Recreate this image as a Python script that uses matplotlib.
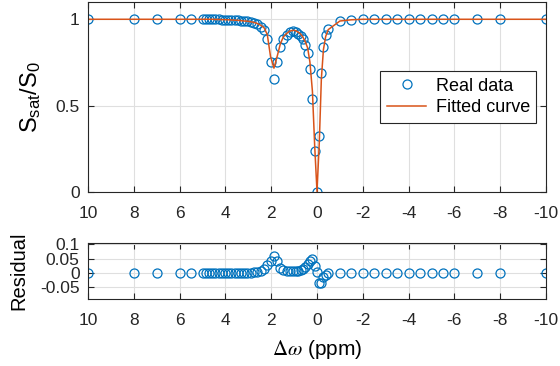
import matplotlib
matplotlib.use("Agg")
import matplotlib.pyplot as plt

plt.rcParams['font.family'] = ['Liberation Sans', 'DejaVu Sans']
plt.rcParams['axes.unicode_minus'] = False
plt.rcParams['mathtext.fontset'] = 'custom'
plt.rcParams['mathtext.rm'] = 'Liberation Sans'
plt.rcParams['mathtext.it'] = 'Liberation Sans:italic'

# Frequency offsets (ppm)
offsets = [10, 8, 7, 6, 5.5, 5.0, 4.86, 4.72, 4.58, 4.44, 4.3, 4.16, 4.02, 3.88,
           3.74, 3.6, 3.46, 3.32, 3.18, 3.04, 2.9, 2.76, 2.62, 2.46, 2.31, 2.17,
           2.03, 1.88, 1.73, 1.6, 1.47, 1.33, 1.2, 1.06, 0.93, 0.82, 0.72, 0.62,
           0.52, 0.41, 0.31, 0.2, 0.1, 0.0, -0.1, -0.19, -0.28, -0.38, -0.49,
           -1, -1.5, -2, -2.5, -3, -3.5, -4, -4.5, -5, -5.5, -6, -7, -8, -10]

# Measured Z-spectrum
real_data = [1.0, 1.0, 1.0, 1.0, 1.0, 1.0, 1.0, 1.0, 1.0, 0.999, 0.999, 0.998,
             0.998, 0.997, 0.996, 0.995, 0.994, 0.992, 0.99, 0.988, 0.985, 0.98,
             0.972, 0.958, 0.936, 0.883, 0.753, 0.657, 0.75, 0.84, 0.888, 0.91,
             0.925, 0.93, 0.927, 0.917, 0.905, 0.884, 0.852, 0.805, 0.711, 0.536,
             0.239, 0.0, 0.324, 0.69, 0.84, 0.907, 0.942,
             0.99, 0.997, 1.0, 1.0, 1.0, 1.0, 1.0, 1.0, 1.0, 1.0, 1.0, 1.0, 1.0, 1.0]

# Fitted curve
fitted = [1.0, 1.0, 1.0, 1.0, 1.0, 1.0, 1.0, 1.0, 1.0, 0.999, 0.999, 0.998,
          0.998, 0.997, 0.996, 0.995, 0.994, 0.992, 0.99, 0.989, 0.986, 0.982,
          0.976, 0.966, 0.951, 0.911, 0.785, 0.717, 0.79, 0.858, 0.898, 0.917,
          0.931, 0.936, 0.934, 0.925, 0.915, 0.898, 0.872, 0.835, 0.753, 0.583,
          0.264, 0.003, 0.287, 0.654, 0.824, 0.901, 0.94,
          0.99, 0.997, 1.0, 1.0, 1.0, 1.0, 1.0, 1.0, 1.0, 1.0, 1.0, 1.0, 1.0, 1.0]

# Residual (fit - data)
residual = [0.0, 0.0, 0.0, 0.0, 0.0, 0.0, 0.0, 0.0, 0.0, 0.0, 0.0, 0.0,
            0.0, 0.0, 0.0, 0.0, 0.0, 0.0, 0.0, 0.001, 0.001, 0.002,
            0.004, 0.008, 0.015, 0.028, 0.04, 0.06, 0.04, 0.018, 0.01, 0.007,
            0.006, 0.006, 0.007, 0.008, 0.01, 0.014, 0.02, 0.03, 0.042, 0.047,
            0.025, 0.003, -0.037, -0.036, -0.016, -0.006, -0.002,
            0.0, 0.0, 0.0, 0.0, 0.0, 0.0, 0.0, 0.0, 0.0, 0.0, 0.0, 0.0, 0.0, 0.0]

xticks = [10, 8, 6, 4, 2, 0, -2, -4, -6, -8, -10]
main_yticks = [0, 0.5, 1]
res_yticks = [-0.05, 0, 0.05, 0.1]

blue = '#0072BD'
orange = '#D95319'
spine_col = '#262626'
tick_fs = 12.5
label_fs = 14.5

fig = plt.figure(figsize=(5.6, 3.66), dpi=100)
ax1 = fig.add_axes([88/560, 1-192/366, 458/560, 190/366])
ax2 = fig.add_axes([88/560, 1-299/366, 458/560, 56/366])


def style(ax):
    ax.grid(True, color='#dfdfdf', linewidth=0.8)
    ax.set_axisbelow(True)
    for s in ax.spines.values():
        s.set_color(spine_col)
        s.set_linewidth(0.8)
    ax.tick_params(direction='in', top=True, right=True, length=4,
                   width=0.8, colors=spine_col, labelsize=tick_fs)
    ax.tick_params(axis='x', pad=10)
    ax.tick_params(axis='y', pad=6)
    ax.set_xlim(10, -10)
    ax.set_xticks(xticks)
    ax.set_xticklabels([str(t) for t in xticks])


ax1.plot(offsets, real_data, 'o', mfc='none', mec=blue, ms=6.5, mew=0.9,
         label='Real data')
ax1.plot(offsets, fitted, '-', color=orange, lw=1.1, label='Fitted curve')
style(ax1)
ax1.set_ylim(0, 1.1)
ax1.set_yticks(main_yticks)
ax1.set_yticklabels(['0', '0.5', '1'])
ax1.set_ylabel(r'S$_{\mathrm{sat}}$/S$_0$', fontsize=17)
ax1.yaxis.set_label_coords(-0.098, 0.5)
leg = ax1.legend(loc='center right', fontsize=13, fancybox=False, framealpha=1,
                 edgecolor=spine_col, borderpad=0.35, handlelength=2.2,
                 borderaxespad=0.55, labelspacing=0.25, handletextpad=0.5)
leg.get_frame().set_linewidth(0.8)

ax2.plot(offsets, residual, 'o', mfc='none', mec=blue, ms=6.5, mew=0.9)
style(ax2)
ax2.set_ylim(-0.092, 0.105)
ax2.set_yticks(res_yticks)
ax2.set_yticklabels(['-0.05', '0', '0.05', '0.1'])
ax2.set_ylabel('Residual', fontsize=label_fs)
ax2.yaxis.set_label_coords(-0.131, 0.5)
ax2.set_xlabel(r'$\Delta\omega$ (ppm)', fontsize=15, labelpad=7,
               math_fontfamily='stix')

fig.savefig('out.png', dpi=100)
